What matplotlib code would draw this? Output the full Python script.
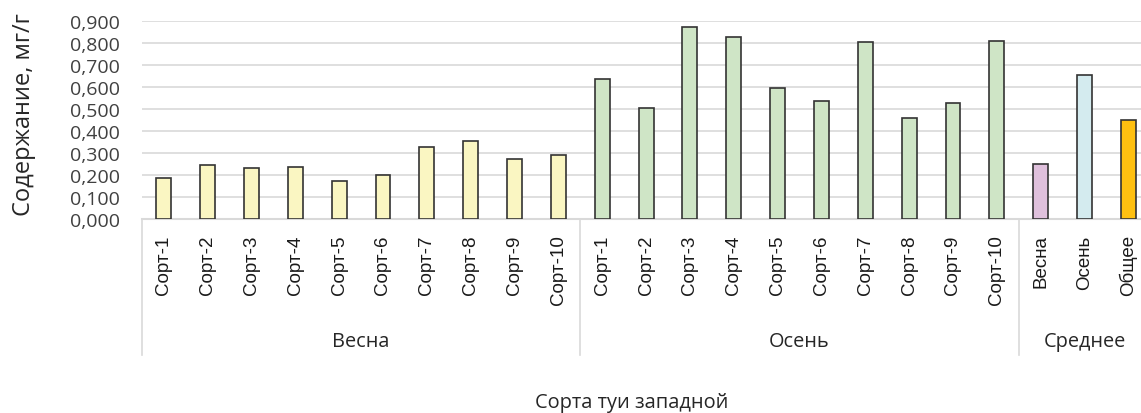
import matplotlib
matplotlib.use("Agg")
import matplotlib.pyplot as plt
import matplotlib.transforms as mtransforms
from matplotlib.ticker import FuncFormatter

# ---- data ----
spring_labels = ["Сорт-1", "Сорт-2", "Сорт-3", "Сорт-4", "Сорт-5",
                 "Сорт-6", "Сорт-7", "Сорт-8", "Сорт-9", "Сорт-10"]
autumn_labels = list(spring_labels)
avg_labels = ["Весна", "Осень", "Общее"]
spring_values = [0.188, 0.244, 0.234, 0.238, 0.173, 0.200, 0.326, 0.355, 0.271, 0.292]
autumn_values = [0.637, 0.504, 0.873, 0.829, 0.598, 0.537, 0.807, 0.460, 0.530, 0.812]
avg_values = [0.250, 0.657, 0.452]
group_names = ["Весна", "Осень", "Среднее"]
y_title = "Содержание, мг/г"
x_title = "Сорта туи западной"

# ---- colours ----
c_spring = "#FAF6C2"
c_autumn = "#CFE5C6"
c_avg = ["#DFC0DC", "#D4EBEF", "#FFC010"]
edge = "#333333"
grid_c = "#D9D9D9"

W, H = 1141, 414
fig = plt.figure(figsize=(W / 100, H / 100), dpi=100)
ax = fig.add_axes([141.8 / W, (H - 220) / H, 1008.5 / W, (220 - 22.3) / H])

labels = spring_labels + autumn_labels + avg_labels
values = spring_values + autumn_values + avg_values
colors = [c_spring] * len(spring_values) + [c_autumn] * len(autumn_values) + c_avg
x = list(range(len(values)))

ax.bar(x, values, width=0.34, color=colors, edgecolor=edge, linewidth=1.2, zorder=3)

ax.set_xlim(-0.5, len(values) - 0.5)
ax.set_ylim(0, 0.9)
ax.set_yticks([i / 10 for i in range(10)])
ax.yaxis.set_major_formatter(FuncFormatter(lambda v, p: f"{v:.3f}".replace(".", ",")))
ax.grid(axis="y", color=grid_c, linewidth=1.2, zorder=0)
ax.axhline(0, color=grid_c, linewidth=1.5, zorder=2, clip_on=False)
for s in ax.spines.values():
    s.set_visible(False)

ax.tick_params(axis="y", length=0, pad=15.5, labelsize=14, labelcolor="#404040")
for t in ax.get_yticklabels():
    t.set_fontfamily("Open Sans")

ax.set_xticks(x)
ax.set_xticklabels(labels, rotation=90, fontfamily="Liberation Sans", fontsize=13.5, color="#1a1a1a")
ax.tick_params(axis="x", length=0, pad=11)

# group separators and labels
trans = mtransforms.blended_transform_factory(ax.transData, ax.transAxes)
axes_h = 220 - 22.3
sep_bottom = -(356 - 220) / axes_h
n1 = len(spring_values)
n2 = n1 + len(autumn_values)
n3 = n2 + len(avg_values)
for xs in [-0.5, n1 - 0.5, n2 - 0.5]:
    ax.plot([xs, xs], [0, sep_bottom], transform=trans, color=grid_c, linewidth=1.2, clip_on=False)
centers = [(n1 - 1) / 2, (n1 + n2 - 1) / 2, (n2 + n3 - 1) / 2]
for cx, name in zip(centers, group_names):
    ax.text(cx, -(342 - 220) / axes_h, name, transform=trans, ha="center", va="center",
            fontfamily="Open Sans", fontsize=14.3, color="#262626")

fig.text(24 / W, 1 - 115 / H, y_title, rotation=90, ha="center", va="center",
         fontfamily="Open Sans", fontsize=17, color="#262626")
fig.text(632 / W, 1 - 403 / H, x_title, ha="center", va="center",
         fontfamily="Open Sans", fontsize=14.4, color="#262626")

fig.savefig("out.png", dpi=100, facecolor="white")
